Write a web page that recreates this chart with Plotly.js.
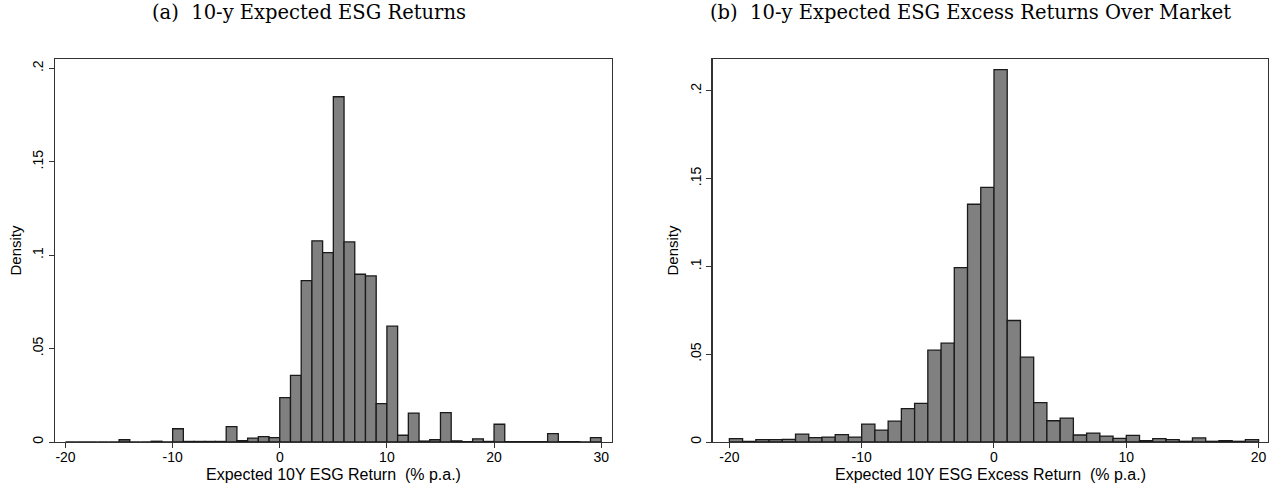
<!DOCTYPE html>
<html>
<head>
<meta charset="utf-8">
<script src="https://cdn.plot.ly/plotly-3.0.1.min.js"></script>
<style>html,body{margin:0;padding:0;background:#fff;}#chart{width:1279px;height:489px;}</style>
</head>
<body>
<div id="chart"></div>
<script>
// Panel (a): 10-y expected ESG returns, histogram bins of width 1
const leftBinCenters = [-19.5,-18.5,-17.5,-16.5,-15.5,-14.5,-13.5,-12.5,-11.5,-10.5,
  -9.5,-8.5,-7.5,-6.5,-5.5,-4.5,-3.5,-2.5,-1.5,-0.5,
  0.5,1.5,2.5,3.5,4.5,5.5,6.5,7.5,8.5,9.5,
  10.5,11.5,12.5,13.5,14.5,15.5,16.5,17.5,18.5,19.5,
  20.5,21.5,22.5,23.5,24.5,25.5,26.5,27.5,28.5,29.5];
const leftDensity = [0,0,0,0,0,0.0012,0,0,0.0004,0,
  0.0071,0.0003,0.0003,0.0003,0.0003,0.0082,0.0007,0.0021,0.0029,0.0023,
  0.0238,0.0357,0.0864,0.1077,0.1014,0.1848,0.1071,0.0898,0.0889,0.0205,
  0.062,0.0036,0.0155,0.0005,0.0012,0.0157,0.0006,0.0002,0.0017,0.0003,
  0.0095,0.0002,0.0002,0.0002,0.0002,0.0045,0.0002,0.0002,0,0.0023];

// Panel (b): 10-y expected ESG excess returns over market
const rightBinCenters = [-19.5,-18.5,-17.5,-16.5,-15.5,-14.5,-13.5,-12.5,-11.5,-10.5,
  -9.5,-8.5,-7.5,-6.5,-5.5,-4.5,-3.5,-2.5,-1.5,-0.5,
  0.5,1.5,2.5,3.5,4.5,5.5,6.5,7.5,8.5,9.5,
  10.5,11.5,12.5,13.5,14.5,15.5,16.5,17.5,18.5,19.5];
const rightDensity = [0.0019,0.0004,0.0013,0.0013,0.0015,0.0045,0.0025,0.0028,0.0042,0.0028,
  0.0102,0.0068,0.0119,0.019,0.022,0.0523,0.0563,0.0993,0.1354,0.145,
  0.212,0.0692,0.0483,0.0224,0.0121,0.0136,0.004,0.0051,0.0034,0.0021,
  0.0038,0.0008,0.0019,0.0013,0.0004,0.0023,0.0004,0.0008,0.0004,0.0013];
const binWidth = 1;

const leftXTicks = [-20,-10,0,10,20,30];
const leftXTickText = ['-20','-10','0','10','20','30'];
const rightXTicks = [-20,-10,0,10,20];
const rightXTickText = ['-20','-10','0','10','20'];
const yTickVals = [0,0.05,0.1,0.15,0.2];
const yTickText = ['0','.05','.1','.15','.2'];

const titleA = '(a)\u00a0 10-y Expected ESG Returns';
const titleB = '(b)\u00a0 10-y Expected ESG Excess Returns Over Market';
const xTitleA = 'Expected 10Y ESG Return\u00a0 (% p.a.)';
const xTitleB = 'Expected 10Y ESG Excess Return\u00a0 (% p.a.)';
const yTitle = 'Density';

const barStyle = {color:'#808080', line:{color:'#1a1a1a', width:1.3}};
const traces = [
  {type:'bar', x:leftBinCenters, y:leftDensity, width:binWidth, marker:barStyle, xaxis:'x', yaxis:'y', hoverinfo:'x+y'},
  {type:'bar', x:rightBinCenters, y:rightDensity, width:binWidth, marker:barStyle, xaxis:'x2', yaxis:'y2', hoverinfo:'x+y'}
];

const sans = 'Liberation Sans, Arial, sans-serif';
const tickFont = {family:sans, size:14, color:'#000'};
const titleFont = {family:sans, size:15, color:'#000'};
const xTitleFont = {family:sans, size:16, color:'#000'};
function xax(domain, range, ticks, ticktext, anchor){
  return {domain:domain, range:range, anchor:anchor, tickvals:ticks, ticktext:ticktext, ticks:'outside', ticklen:5, tickcolor:'#333',
    ticklabelstandoff:-3,
    showline:true, mirror:true, linecolor:'#333', linewidth:1.2, showgrid:false, zeroline:false,
    tickfont:tickFont, automargin:false, fixedrange:true};
}
function yax(range, anchor){
  return {domain:[0,1], range:range, anchor:anchor, tickvals:yTickVals, ticktext:yTickText, tickangle:-90,
    ticks:'outside', ticklen:5, tickcolor:'#333', showline:true, mirror:true, linecolor:'#333', linewidth:1.2,
    showgrid:false, zeroline:false, tickfont:tickFont, title:{text:yTitle, font:titleFont, standoff:5}, automargin:false, fixedrange:true};
}
const serif = 'DejaVu Serif, Liberation Serif, serif';
const xDomA = [0, 0.4591], xDomB = [0.5421, 1.0];
const layout = {
  width:1279, height:489, showlegend:false, bargap:0,
  paper_bgcolor:'#fff', plot_bgcolor:'#fff',
  margin:{l:54.5, r:11, t:59, b:47, pad:0},
  xaxis: xax(xDomA, [-20.98, 31.0], leftXTicks, leftXTickText, 'y'),
  yaxis: yax([0, 0.205], 'x'),
  xaxis2: xax(xDomB, [-21.27, 20.71], rightXTicks, rightXTickText, 'y2'),
  yaxis2: yax([0, 0.2181], 'x2'),
  annotations:[
    {text:titleA, xref:'paper', yref:'paper', x:0.2097, y:1, yshift:47, xanchor:'center', yanchor:'middle', showarrow:false, font:{family:serif, size:19.5, color:'#000'}},
    {text:titleB, xref:'paper', yref:'paper', x:0.7544, y:1, yshift:47, xanchor:'center', yanchor:'middle', showarrow:false, font:{family:serif, size:19.5, color:'#000'}},
    {text:xTitleA, xref:'paper', yref:'paper', x:(xDomA[0]+xDomA[1])/2, y:0, yshift:-32, xanchor:'center', yanchor:'middle', showarrow:false, font:xTitleFont},
    {text:xTitleB, xref:'paper', yref:'paper', x:(xDomB[0]+xDomB[1])/2, y:0, yshift:-32, xanchor:'center', yanchor:'middle', showarrow:false, font:xTitleFont}
  ]
};
Plotly.newPlot('chart', traces, layout, {staticPlot:true, displayModeBar:false});
</script>
</body>
</html>
